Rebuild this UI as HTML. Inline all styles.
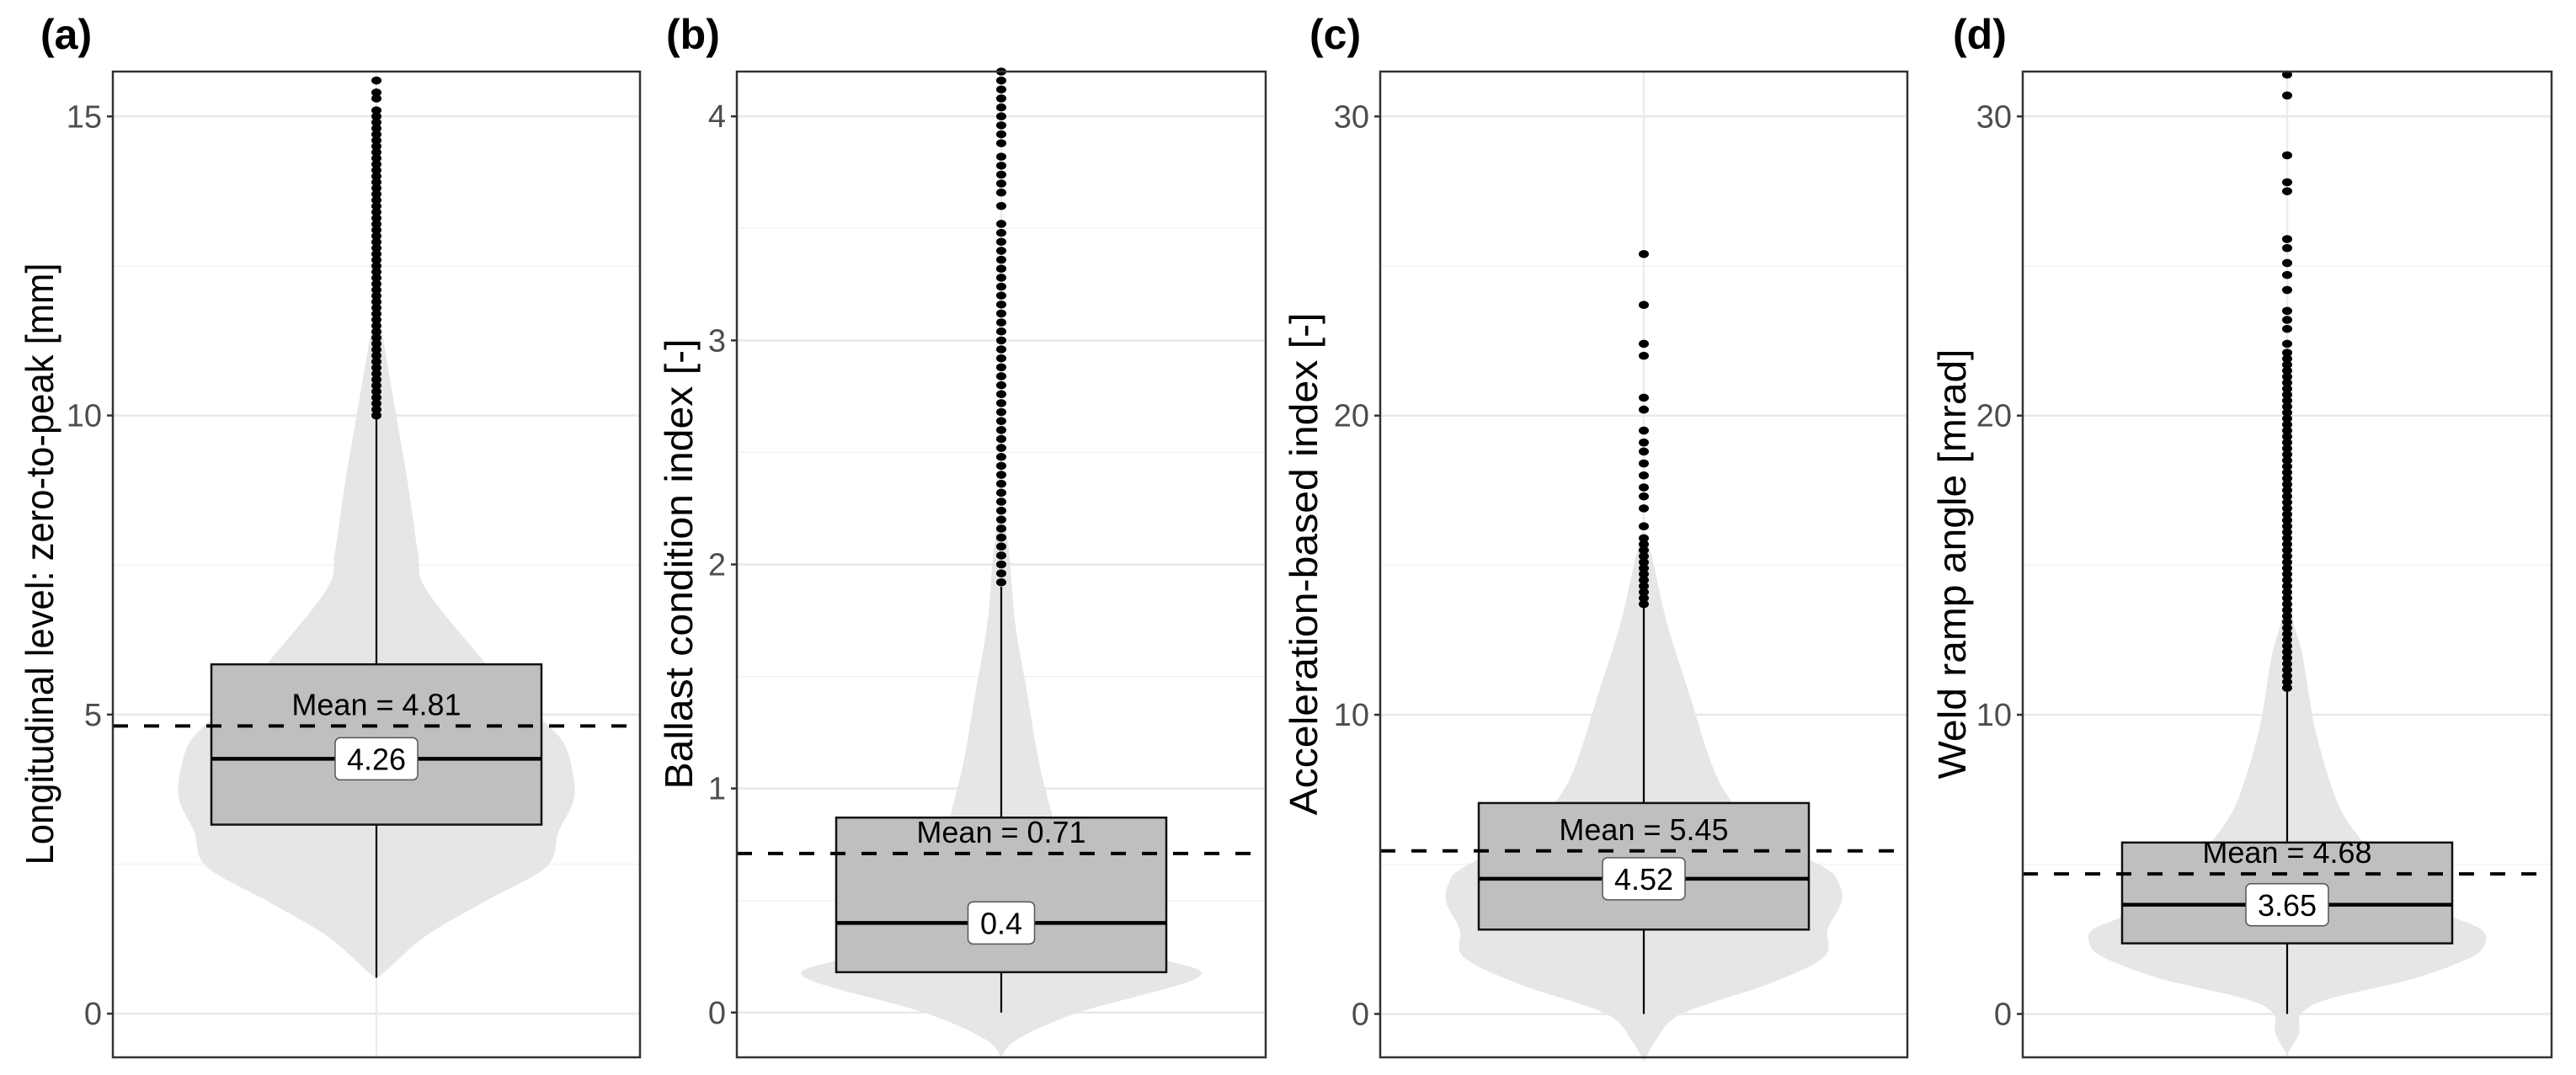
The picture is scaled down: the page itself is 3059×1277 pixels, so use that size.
<!DOCTYPE html>
<html><head><meta charset="utf-8"><style>
html,body{margin:0;padding:0;background:#fff;}
svg{display:block;}
</style></head><body>
<svg id="fig" width="3059" height="1277" viewBox="0 0 3059 1277" xmlns="http://www.w3.org/2000/svg" font-family="'Liberation Sans', Arial, sans-serif"></svg>
<script>
// ---- data ----
const panelLetters = ["(a)","(b)","(c)","(d)"];
const axisTitles = ["Longitudinal level: zero-to-peak [mm]","Ballast condition index [-]","Acceleration-based index [-]","Weld ramp angle [mrad]"];
const tickValsA = [0,5,10,15];
const tickValsB = [0,1,2,3,4];
const tickValsC = [0,10,20,30];
const tickValsD = [0,10,20,30];
const minorA = [2.5,7.5,12.5];
const minorB = [0.5,1.5,2.5,3.5];
const minorC = [5,15,25];
const minorD = [5,15,25];
const yDomainA = [-0.73,15.75];
const yDomainB = [-0.2,4.2];
const yDomainC = [-1.45,31.5];
const yDomainD = [-1.45,31.5];
const q1s = [3.16,0.18,2.82,2.36];
const medians = [4.26,0.4,4.52,3.65];
const medianLabels = ["4.26","0.4","4.52","3.65"];
const q3s = [5.84,0.87,7.05,5.73];
const means = [4.81,0.71,5.45,4.68];
const meanLabels = ["Mean = 4.81","Mean = 0.71","Mean = 5.45","Mean = 4.68"];
const whiskLo = [0.6,0,0,0];
const whiskHi = [10,1.9,13.7,10.9];
// violin profiles (value, relative half-width)
const violinValsA = [0.6,0.72,1.3,1.88,2.46,3.04,3.5,3.85,4.43,4.78,5.36,5.94,7.1,7.7,8.84,10,11.16,11.86];
const violinDensA = [0,0.05,0.25,0.55,0.86,0.92,0.99,1,0.96,0.88,0.68,0.53,0.25,0.21,0.16,0.1,0.04,0];
const violinValsB = [-0.2,-0.12,0,0.16,0.25,0.38,0.5,0.65,0.87,1.12,1.43,1.74,2.05,2.3];
const violinDensB = [0,0.08,0.39,1,0.78,0.52,0.39,0.32,0.26,0.19,0.13,0.07,0.04,0];
const violinValsC = [-1.6,-0.9,0,1,1.9,2.83,3.76,4.45,4.9,6.07,7.23,8.4,10.7,13,15.3,16.3];
const violinDensC = [0,0.06,0.19,0.63,0.91,0.93,1,0.98,0.91,0.58,0.43,0.34,0.23,0.12,0.04,0];
const violinValsD = [-1.35,-0.65,0,0.5,1.2,1.9,2.36,2.83,3.3,4,5.4,6.5,7.5,9.55,11.9,13,14];
const violinDensD = [0,0.06,0.07,0.21,0.65,0.93,1,0.98,0.82,0.65,0.43,0.3,0.23,0.14,0.08,0.035,0];
// outliers
const outliersA = [10,10.1,10.2,10.3,10.4,10.5,10.6,10.7,10.8,10.9,11,11.1,11.2,11.3,11.4,11.5,11.6,11.7,11.8,11.9,12,12.1,12.2,12.3,12.4,12.5,12.6,12.7,12.8,12.9,13,13.1,13.2,13.3,13.4,13.5,13.6,13.7,13.8,13.9,14,14.1,14.2,14.3,14.4,14.5,14.6,14.7,14.8,14.9,15,15.1,15.3,15.4,15.6];
const outliersB = [1.92,1.96,2,2.04,2.08,2.12,2.16,2.2,2.24,2.28,2.32,2.36,2.4,2.44,2.48,2.52,2.56,2.6,2.64,2.68,2.72,2.76,2.8,2.84,2.88,2.92,2.96,3,3.04,3.08,3.12,3.16,3.2,3.24,3.28,3.32,3.36,3.4,3.44,3.48,3.52,3.6,3.66,3.7,3.74,3.78,3.82,3.88,3.92,3.96,4,4.04,4.08,4.12,4.16,4.2];
const outliersC = [13.7,13.9,14.1,14.3,14.5,14.7,14.9,15.1,15.3,15.5,15.7,15.9,16.3,16.9,17.3,17.6,18,18.4,18.8,19.1,19.5,20.2,20.6,22,22.4,23.7,25.4];
const outliersD = [10.9,11.1,11.3,11.5,11.7,11.9,12.1,12.3,12.5,12.7,12.9,13.1,13.3,13.5,13.7,13.9,14.1,14.3,14.5,14.7,14.9,15.1,15.3,15.5,15.7,15.9,16.1,16.3,16.5,16.7,16.9,17.1,17.3,17.5,17.7,17.9,18.1,18.3,18.5,18.7,18.9,19.1,19.3,19.5,19.7,19.9,20.1,20.3,20.5,20.7,20.9,21.1,21.3,21.5,21.7,21.9,22.1,22.4,22.9,23.2,23.5,24.2,24.7,25.1,25.6,25.9,27.5,27.8,28.7,30.7,31.4];

// ---- layout (not data) ----
const frameX0 = [134,875,1639,2402];
const frameX1 = [760,1503,2265,3030];
const titleX = [47,806,1548,2318];
const titleLen = [715,535,597,511];
const letterX = [48,791,1555,2319];
const FY0 = 85, FY1 = 1256, MAXHALF = 235;

const tickSets=[tickValsA,tickValsB,tickValsC,tickValsD];
const minorSets=[minorA,minorB,minorC,minorD];
const domains=[yDomainA,yDomainB,yDomainC,yDomainD];
const vVals=[violinValsA,violinValsB,violinValsC,violinValsD];
const vDens=[violinDensA,violinDensB,violinDensC,violinDensD];
const outs=[outliersA,outliersB,outliersC,outliersD];
const NS="http://www.w3.org/2000/svg";
const svg=document.getElementById('fig');
function mk(tag,attrs,parent){const e=document.createElementNS(NS,tag);for(const k in attrs)e.setAttribute(k,attrs[k]);(parent||svg).appendChild(e);return e;}
function smooth(pts){ // catmull-rom to bezier
  let d='M'+pts[0][0]+','+pts[0][1];
  for(let i=0;i<pts.length-1;i++){
    const p0=pts[Math.max(0,i-1)],p1=pts[i],p2=pts[i+1],p3=pts[Math.min(pts.length-1,i+2)];
    const c1=[p1[0]+(p2[0]-p0[0])/6,p1[1]+(p2[1]-p0[1])/6];
    const c2=[p2[0]-(p3[0]-p1[0])/6,p2[1]-(p3[1]-p1[1])/6];
    d+='C'+c1[0]+','+c1[1]+' '+c2[0]+','+c2[1]+' '+p2[0]+','+p2[1];
  }
  return d;
}

for(let p=0;p<4;p++){
  const dom=domains[p];
  const y=v=>FY1-(v-dom[0])/(dom[1]-dom[0])*(FY1-FY0);
  const x0=frameX0[p],x1=frameX1[p],cx=(x0+x1)/2;
  const g=mk('g',{});
  
  
  const L=mk('text',{x:letterX[p],y:58,'font-size':50,'font-weight':'bold',fill:'#000'},g);
  L.textContent=panelLetters[p];
  
  
  minorSets[p].forEach(v=>{const l=mk('line',{x1:x0,x2:x1,y1:y(v),y2:y(v),stroke:'#f2f2f2','stroke-width':1.5},g);
    });
  tickSets[p].forEach(v=>{const l=mk('line',{x1:x0,x2:x1,y1:y(v),y2:y(v),stroke:'#e8e8e8','stroke-width':2.5},g);
    });
  const vg=mk('line',{x1:cx,x2:cx,y1:FY0,y2:FY1,stroke:'#ebebeb','stroke-width':2.5},g);
  
  // violin
  const vv=vVals[p],dd=vDens[p];
  const right=vv.map((v,i)=>[cx+dd[i]*MAXHALF,y(v)]);
  const left=vv.map((v,i)=>[cx-dd[i]*MAXHALF,y(v)]).reverse();
  const dR=smooth(right);
  const dL=smooth(left).replace(/^M/,'L');
  const vp=mk('path',{d:dR+dL+'Z',fill:'#e6e6e6',stroke:'none'},g);
  
  const w1=mk('line',{x1:cx,x2:cx,y1:y(q3s[p]),y2:y(whiskHi[p]),stroke:'#000','stroke-width':2.2},g);
  
  const w2=mk('line',{x1:cx,x2:cx,y1:y(q1s[p]),y2:y(whiskLo[p]),stroke:'#000','stroke-width':2.2},g);
  
  outs[p].forEach(v=>{const e=mk('ellipse',{cx:cx,cy:y(v),rx:6,ry:4.8,fill:'#000'},g);
    });
  const bx0=cx-196,bx1=cx+196;
  const b=mk('rect',{x:bx0,y:y(q3s[p]),width:bx1-bx0,height:y(q1s[p])-y(q3s[p]),fill:'#bfbfbf',stroke:'#111','stroke-width':2.5},g);
  
  const ml=mk('line',{x1:bx0,x2:bx1,y1:y(medians[p]),y2:y(medians[p]),stroke:'#000','stroke-width':4.5},g);
  
  const mline=mk('line',{x1:x0,x2:x1,y1:y(means[p]),y2:y(means[p]),stroke:'#000','stroke-width':4,'stroke-dasharray':'18,19'},g);
  
  const mt=mk('text',{x:cx,y:y(means[p])-13,'font-size':36,'text-anchor':'middle',fill:'#000'},g);
  mt.textContent=meanLabels[p];
  
  const lw=medianLabels[p].length*19+22;
  const lr=mk('rect',{x:cx-lw/2,y:y(medians[p])-25,width:lw,height:50,rx:6,fill:'#fff',stroke:'#555','stroke-width':1.5},g);
  
  const lt=mk('text',{x:cx,y:y(medians[p])+13,'font-size':36,'text-anchor':'middle',fill:'#000'},g);
  lt.textContent=medianLabels[p];
  
  const fr=mk('rect',{x:x0,y:FY0,width:x1-x0,height:FY1-FY0,fill:'none',stroke:'#333','stroke-width':2.5},g);
  
  tickSets[p].forEach(v=>{
    const tm=mk('line',{x1:x0-7,x2:x0,y1:y(v),y2:y(v),stroke:'#333','stroke-width':2.5},g);
    
    const tt=mk('text',{x:x0-13,y:y(v)+13,'font-size':38,'text-anchor':'end',fill:'#4d4d4d'},g);
    tt.textContent=String(v);
    
  });
  const at=mk('text',{x:0,y:0,'font-size':46,'text-anchor':'middle',fill:'#000',textLength:titleLen[p],lengthAdjust:'spacingAndGlyphs',transform:'translate('+(titleX[p]+16)+',670) rotate(-90)'},g);
  at.textContent=axisTitles[p];
  
}
</script>
</body></html>
